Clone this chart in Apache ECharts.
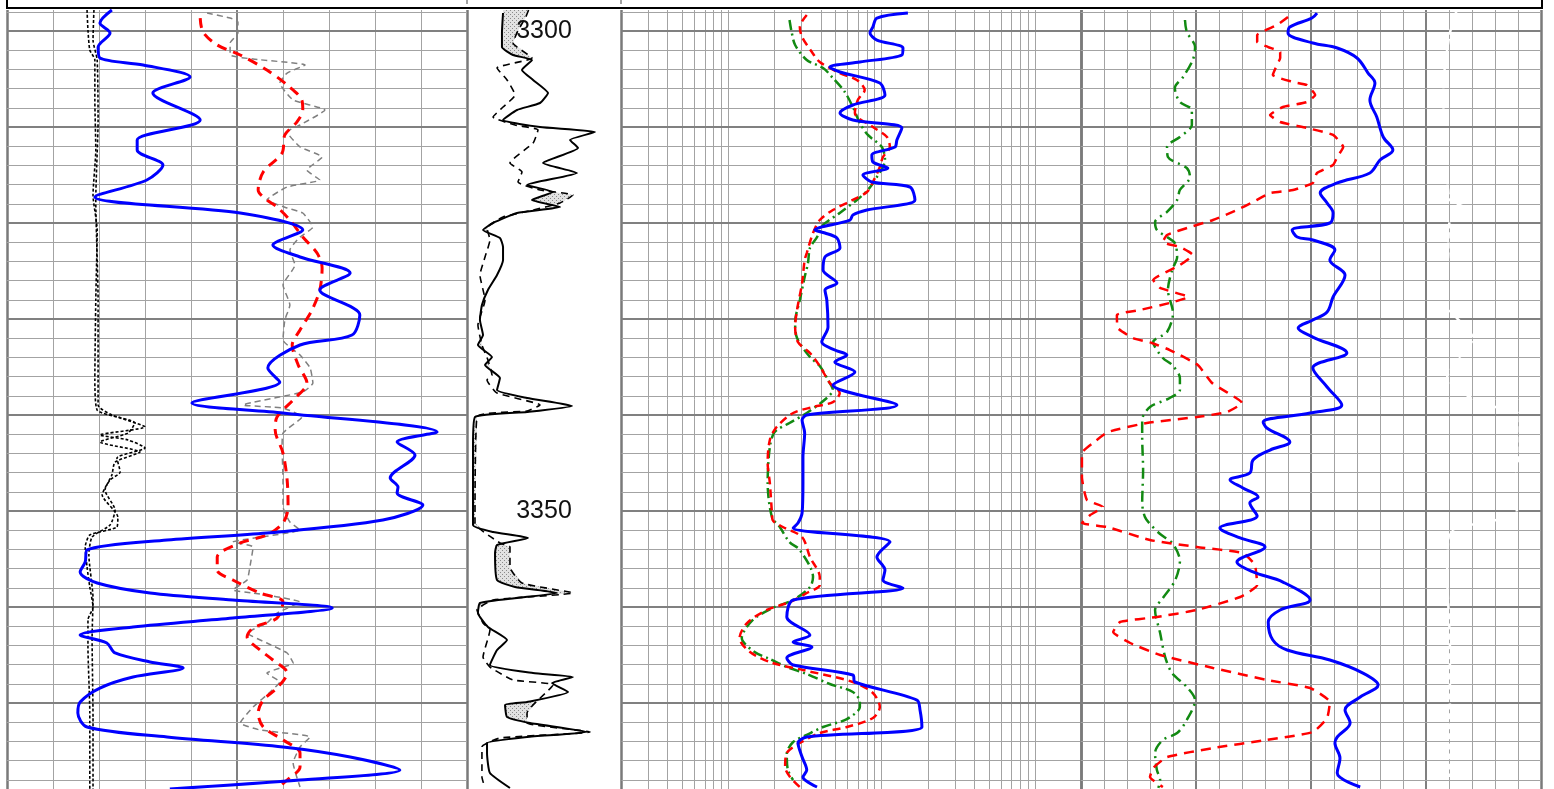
<!DOCTYPE html>
<html>
<head>
<meta charset="utf-8">
<script src="https://cdn.jsdelivr.net/npm/echarts@6/dist/echarts.min.js"></script>
<style>
html,body{margin:0;padding:0;background:#fff;}
#chart{width:1554px;height:789px;}
</style>
</head>
<body>
<div id="chart"></div>
<script>
// ---------------- DATA (depth in m, value in track units) ----------------
const depthLabels = [3300, 3350];

// Track 1 (linear 0-100)
const calA = [[3297.81,17.4],[3299.90,17.6],[3301.98,18.0],[3303.02,19.1],[3307.19,19.1],[3312.40,19.3],[3317.08,18.7],[3320.73,19.6],[3328.02,19.3],[3336.35,19.1],[3339.48,19.6],[3340.31,24.6],[3341.25,30.0],[3342.08,20.2],[3342.60,26.3],[3343.44,30.0],[3344.48,23.9],[3345.94,24.6],[3346.77,22.4],[3348.33,20.7],[3350.63,24.1],[3351.67,23.9],[3352.50,18.0],[3353.75,17.0],[3355.83,17.4],[3357.92,18.0],[3360.00,18.7],[3361.35,17.6],[3364.17,17.6],[3371.04,18.0],[3378.96,18.0]];
const calB = [[3297.81,18.9],[3300.94,18.7],[3303.02,19.6],[3309.27,19.8],[3317.60,19.3],[3328.02,19.8],[3338.96,19.8],[3340.00,22.8],[3340.83,27.8],[3341.88,26.3],[3342.81,20.2],[3343.85,28.9],[3344.90,23.5],[3346.25,22.8],[3347.81,21.3],[3349.90,23.5],[3351.46,22.4],[3352.71,18.5],[3354.58,17.8],[3359.06,18.7],[3363.23,18.5],[3371.56,18.7],[3378.96,18.7]];
const gr = [[3297.81,22.8],[3299.17,20.2],[3300.21,22.4],[3301.67,19.8],[3302.81,20.2],[3303.54,29.6],[3304.79,39.8],[3306.46,31.7],[3309.27,42.0],[3311.35,28.3],[3312.40,28.3],[3313.96,33.9],[3315.52,30.4],[3317.29,19.1],[3318.96,50.7],[3320.73,64.3],[3322.29,57.8],[3323.54,63.7],[3325.21,74.6],[3326.98,68.0],[3329.58,76.7],[3331.67,75.0],[3332.71,63.7],[3335.10,56.7],[3336.56,59.3],[3338.75,40.2],[3339.79,60.0],[3341.77,93.5],[3342.81,84.8],[3344.17,88.7],[3346.56,83.3],[3347.50,85.0],[3348.13,84.8],[3349.38,90.4],[3350.94,81.7],[3352.29,56.5],[3353.02,34.8],[3354.06,17.4],[3355.31,17.0],[3356.35,15.9],[3357.50,19.6],[3358.54,31.1],[3359.27,49.1],[3360.10,70.7],[3361.15,49.1],[3362.08,27.4],[3362.92,15.9],[3363.75,21.7],[3364.79,23.5],[3365.73,31.1],[3366.35,38.3],[3367.29,27.4],[3368.44,20.2],[3369.90,15.9],[3371.04,15.4],[3372.50,17.4],[3373.54,34.8],[3374.58,60.0],[3375.63,74.6],[3376.98,85.4],[3378.02,63.7],[3378.96,35.4]];
const t1Red = [[3298.65,42.0],[3300.10,42.6],[3301.46,45.7],[3302.50,50.7],[3304.06,56.5],[3305.63,60.9],[3307.19,64.1],[3308.23,64.3],[3309.48,63.0],[3310.83,60.4],[3312.71,59.8],[3314.69,55.7],[3316.56,54.6],[3317.60,56.5],[3318.33,58.7],[3319.69,61.5],[3321.46,64.3],[3323.13,67.4],[3324.69,68.5],[3326.98,68.0],[3329.06,66.3],[3331.15,63.7],[3332.71,62.0],[3334.79,63.3],[3336.67,65.2],[3338.44,62.2],[3340.21,58.7],[3341.56,58.3],[3343.96,60.0],[3346.77,60.9],[3349.58,61.1],[3351.25,60.0],[3352.50,56.5],[3353.33,50.7],[3354.79,45.7],[3356.15,45.7],[3357.19,49.1],[3358.54,55.0],[3359.48,60.0],[3361.15,58.7],[3362.19,53.5],[3363.13,52.2],[3364.48,55.0],[3365.52,57.8],[3366.88,60.9],[3368.44,58.7],[3369.69,55.7],[3371.04,54.6],[3372.50,55.7],[3373.85,60.0],[3375.21,63.7],[3376.67,63.7],[3378.02,60.9],[3378.96,58.7]];
const t1Gray = [[3298.13,43.5],[3298.65,48.5],[3299.06,50.2],[3300.21,50.2],[3301.25,48.5],[3302.50,48.5],[3302.92,53.5],[3303.54,64.8],[3304.38,60.9],[3305.42,59.3],[3307.19,62.2],[3308.23,69.1],[3309.79,63.7],[3310.52,60.9],[3312.08,63.7],[3313.13,68.5],[3314.48,65.2],[3315.52,68.0],[3316.25,60.9],[3317.60,56.5],[3318.44,60.9],[3318.96,64.3],[3320.42,66.5],[3321.46,63.7],[3322.81,61.5],[3324.38,62.6],[3326.46,60.0],[3328.54,61.5],[3330.10,60.4],[3332.19,60.0],[3333.75,63.7],[3335.10,65.9],[3336.67,66.5],[3337.60,64.3],[3338.96,51.3],[3339.27,60.0],[3340.21,64.1],[3341.88,60.0],[3343.33,59.8],[3346.77,60.0],[3349.58,60.0],[3351.15,61.5],[3351.98,63.7],[3353.23,49.1],[3353.75,53.5],[3355.83,52.8],[3357.19,52.2],[3358.23,49.1],[3358.54,53.5],[3359.48,63.7],[3360.63,58.7],[3361.67,56.5],[3362.71,52.2],[3363.75,56.5],[3364.79,60.9],[3365.83,62.2],[3366.88,56.5],[3367.81,59.3],[3368.85,57.2],[3370.42,53.5],[3372.08,50.7],[3372.81,55.0],[3373.54,65.9],[3374.58,63.7],[3376.25,62.2],[3378.75,63.7]];

// Depth track (linear 0-100)
const dtSolid = [[3298.13,23.4],[3300.21,22.7],[3301.67,22.7],[3302.50,29.9],[3303.02,42.2],[3304.06,35.7],[3305.10,42.9],[3306.46,52.6],[3307.50,47.4],[3308.23,32.5],[3309.27,23.4],[3310.00,47.4],[3310.52,83.1],[3311.35,66.9],[3312.19,72.1],[3313.75,49.4],[3314.79,71.4],[3316.04,39.0],[3316.77,55.8],[3317.60,42.2],[3318.33,60.4],[3318.96,32.5],[3320.00,16.9],[3320.73,10.4],[3321.56,21.4],[3322.50,23.4],[3323.85,23.4],[3325.42,19.5],[3326.98,13.6],[3328.54,9.7],[3330.10,8.4],[3331.67,10.4],[3332.71,7.1],[3333.96,16.2],[3334.79,11.7],[3336.15,21.4],[3337.40,19.5],[3338.23,39.0],[3339.06,68.2],[3339.69,39.0],[3340.21,5.2],[3343.33,3.9],[3351.46,3.9],[3352.19,16.9],[3352.81,39.6],[3353.54,19.5],[3354.38,18.2],[3357.19,19.5],[3357.92,31.2],[3358.54,58.4],[3359.06,32.5],[3359.58,8.4],[3360.63,7.1],[3362.08,13.6],[3363.44,26.0],[3364.48,19.5],[3366.04,14.9],[3366.88,42.9],[3367.29,68.8],[3367.92,55.2],[3368.85,65.6],[3369.90,39.0],[3370.21,24.7],[3371.46,26.0],[3372.08,40.9],[3373.02,77.9],[3373.54,39.0],[3374.17,13.0],[3375.21,13.0],[3377.29,14.9],[3378.85,27.9]];
const dtDash = [[3297.81,40.0],[3298.60,38.0],[3300.00,33.0],[3301.25,29.9],[3302.81,42.2],[3303.85,19.5],[3305.10,26.0],[3306.67,31.2],[3307.92,23.4],[3308.96,16.9],[3309.79,31.2],[3310.31,46.1],[3311.67,42.9],[3313.75,27.9],[3314.69,35.7],[3315.73,33.1],[3316.56,47.4],[3317.08,68.8],[3317.92,60.4],[3318.65,42.9],[3319.38,23.4],[3320.52,13.0],[3321.77,14.9],[3323.54,11.7],[3325.42,8.4],[3328.02,11.7],[3330.63,7.1],[3332.71,9.7],[3334.27,13.6],[3335.83,16.2],[3336.35,13.0],[3337.71,19.5],[3338.96,47.4],[3339.58,39.0],[3340.21,6.5],[3351.25,5.2],[3353.33,21.4],[3353.75,27.9],[3355.83,27.9],[3357.50,35.7],[3358.54,68.8],[3359.27,16.9],[3360.31,6.5],[3361.67,10.4],[3362.40,14.9],[3365.21,10.4],[3366.25,14.9],[3367.60,29.9],[3368.13,55.8],[3371.04,39.0],[3372.08,39.0],[3373.02,79.9],[3373.65,21.4],[3374.58,9.7],[3377.71,9.7],[3378.85,11.7]];

// Track 3 (log 1-1000)
const t3Blue = [[3298.13,74.1],[3298.65,46.5],[3299.58,43.8],[3300.21,41.9],[3300.94,46.5],[3301.77,68.8],[3302.50,67.7],[3303.23,36.0],[3303.75,22.9],[3304.27,26.7],[3305.42,48.6],[3306.67,52.5],[3307.71,32.4],[3308.54,26.7],[3309.27,32.4],[3310.10,67.7],[3311.35,62.8],[3312.08,61.0],[3312.92,43.1],[3313.65,43.8],[3314.27,54.8],[3315.00,37.7],[3315.73,43.1],[3316.25,76.4],[3317.60,82.4],[3318.65,40.0],[3319.17,32.4],[3319.69,31.0],[3320.73,18.3],[3321.04,21.3],[3321.56,25.5],[3322.60,26.7],[3323.54,21.3],[3324.90,20.7],[3326.25,25.5],[3326.98,21.3],[3328.02,21.9],[3330.83,22.3],[3332.40,20.3],[3333.23,24.7],[3333.75,29.6],[3334.48,24.7],[3335.52,33.4],[3336.88,24.0],[3338.96,62.8],[3340.00,16.2],[3340.52,15.1],[3341.88,15.7],[3344.38,15.3],[3347.08,15.3],[3350.21,15.1],[3351.25,14.2],[3351.77,13.2],[3353.23,56.6],[3354.79,46.5],[3356.15,52.5],[3357.19,50.9],[3358.02,68.8],[3359.27,13.2],[3361.04,12.0],[3362.92,17.0],[3363.65,13.2],[3364.17,17.5],[3365.31,12.0],[3366.04,13.2],[3367.08,32.4],[3367.81,33.4],[3369.69,84.9],[3370.73,88.9],[3372.50,91.5],[3373.54,16.2],[3374.17,14.2],[3375.63,15.1],[3376.98,16.2],[3377.71,15.3],[3378.75,18.9]];
const t3Red = [[3298.33,16.2],[3299.58,14.6],[3300.63,15.1],[3302.19,17.5],[3303.23,19.7],[3304.38,26.6],[3305.10,34.4],[3306.15,38.7],[3307.19,34.9],[3308.54,33.4],[3310.00,43.8],[3311.04,54.1],[3312.08,56.5],[3313.13,50.9],[3314.17,48.6],[3315.73,43.8],[3316.77,40.0],[3317.60,32.4],[3318.65,24.0],[3319.69,19.7],[3321.04,17.8],[3323.13,16.2],[3323.85,15.7],[3326.25,15.1],[3329.06,14.0],[3330.83,13.6],[3332.40,14.2],[3333.54,17.0],[3334.90,19.7],[3336.67,22.9],[3337.71,26.6],[3338.65,24.0],[3339.17,17.8],[3339.79,13.2],[3341.25,10.3],[3342.60,9.3],[3345.00,9.0],[3347.08,9.3],[3350.21,9.6],[3350.94,9.7],[3351.67,11.3],[3352.71,15.1],[3354.79,17.0],[3356.88,19.7],[3357.71,19.7],[3358.54,16.2],[3359.48,12.6],[3360.31,8.9],[3361.67,6.6],[3363.23,5.9],[3364.69,6.9],[3365.83,9.7],[3366.56,15.3],[3367.81,32.4],[3368.96,43.8],[3370.42,48.6],[3371.56,43.8],[3372.50,29.6],[3373.13,19.7],[3374.17,14.6],[3375.21,12.0],[3376.67,11.7],[3377.71,12.6],[3378.75,14.6]];
const t3Green = [[3298.85,12.5],[3300.10,12.9],[3301.46,13.6],[3303.02,16.2],[3303.85,20.7],[3304.90,24.0],[3306.35,28.7],[3307.92,32.4],[3309.58,36.0],[3310.83,40.6],[3312.08,50.1],[3313.44,52.5],[3315.21,46.5],[3316.56,40.6],[3317.60,34.4],[3318.96,26.6],[3320.21,20.7],[3321.46,18.9],[3322.60,17.0],[3324.17,16.5],[3325.63,15.7],[3328.02,14.6],[3330.31,13.6],[3331.98,14.0],[3333.96,17.0],[3334.90,19.7],[3336.35,22.3],[3337.40,24.0],[3338.23,21.9],[3339.79,16.2],[3340.83,12.5],[3341.77,10.0],[3343.33,9.3],[3347.08,9.0],[3350.63,9.6],[3351.67,10.8],[3353.23,12.5],[3354.06,14.6],[3356.88,17.8],[3357.92,17.0],[3359.27,13.2],[3360.10,9.7],[3361.35,7.2],[3363.23,6.1],[3364.69,7.4],[3365.42,9.3],[3366.25,12.0],[3366.98,16.2],[3368.02,22.9],[3368.85,32.4],[3369.90,36.0],[3370.42,36.0],[3371.67,29.6],[3372.50,20.7],[3373.33,16.2],[3374.06,13.2],[3375.31,12.0],[3376.98,12.2],[3378.02,13.2]];

// Track 4 (linear 0-100)
const t4Blue = [[3298.13,51.3],[3298.65,50.2],[3299.58,45.4],[3300.21,45.0],[3301.25,50.4],[3301.77,55.7],[3302.81,60.0],[3304.38,62.4],[3305.42,63.9],[3307.19,62.8],[3308.96,64.3],[3311.04,65.7],[3312.40,67.8],[3313.44,65.0],[3314.79,62.8],[3315.83,55.7],[3316.88,52.0],[3317.92,53.5],[3318.96,54.8],[3320.00,54.1],[3320.73,45.9],[3321.46,47.0],[3321.77,50.4],[3322.81,55.2],[3323.85,54.1],[3325.42,57.4],[3327.71,54.8],[3329.27,53.5],[3330.10,50.4],[3330.94,47.2],[3331.88,50.4],[3333.54,57.8],[3335.10,50.4],[3337.08,53.5],[3338.96,56.7],[3339.79,49.8],[3340.73,39.6],[3341.35,40.4],[3342.81,45.4],[3343.65,41.1],[3344.69,37.4],[3346.04,36.7],[3346.77,32.4],[3347.60,35.2],[3348.54,38.5],[3349.17,36.7],[3350.52,38.3],[3351.77,30.2],[3352.81,34.6],[3353.75,40.0],[3355.31,33.9],[3356.35,37.4],[3357.40,43.9],[3359.27,49.8],[3360.31,43.3],[3361.56,40.7],[3363.44,41.7],[3364.48,44.8],[3365.52,54.1],[3366.88,61.3],[3368.13,64.6],[3369.38,60.7],[3370.73,57.4],[3372.08,58.5],[3373.54,55.7],[3374.17,55.2],[3375.73,56.3],[3377.29,55.7],[3378.75,60.7]];
const t4Red = [[3298.54,45.0],[3299.38,42.6],[3300.42,38.3],[3301.15,38.3],[3301.67,40.7],[3302.19,43.3],[3302.81,43.3],[3303.54,42.6],[3304.58,41.7],[3305.31,46.1],[3305.63,49.1],[3306.67,50.9],[3307.40,49.1],[3307.92,43.9],[3308.75,41.1],[3309.48,43.3],[3310.10,49.1],[3310.83,54.8],[3312.08,57.0],[3313.13,55.7],[3313.96,54.8],[3314.79,51.3],[3315.83,50.4],[3316.56,46.1],[3316.88,41.1],[3317.81,37.4],[3318.65,33.9],[3319.69,28.7],[3320.42,23.7],[3321.25,18.7],[3321.98,17.8],[3322.50,21.5],[3323.33,24.3],[3324.38,21.5],[3325.94,15.7],[3326.77,17.2],[3327.71,23.3],[3328.33,19.3],[3329.06,12.8],[3329.58,7.8],[3330.94,8.0],[3331.98,11.3],[3332.50,15.4],[3333.23,19.3],[3334.79,25.4],[3336.67,28.5],[3338.75,35.0],[3339.69,31.7],[3340.21,25.2],[3340.83,14.3],[3341.77,5.9],[3342.92,2.6],[3343.96,0.2],[3346.46,0.2],[3348.85,1.3],[3349.58,4.8],[3350.42,2.0],[3351.25,0.2],[3351.67,5.7],[3353.02,15.0],[3353.75,25.2],[3354.38,35.2],[3355.63,37.8],[3357.71,38.3],[3358.96,34.6],[3360.31,25.2],[3361.04,16.5],[3361.56,8.5],[3362.60,7.0],[3363.75,10.7],[3365.00,17.2],[3366.35,28.7],[3367.60,40.4],[3368.44,49.8],[3369.90,54.1],[3371.56,53.5],[3373.02,50.4],[3373.85,40.4],[3374.69,28.7],[3375.63,18.7],[3376.77,15.7],[3377.71,15.0],[3378.75,17.8]];
const t4Green = [[3298.85,22.6],[3300.10,23.0],[3301.67,24.8],[3303.02,24.3],[3304.79,22.2],[3305.94,20.4],[3307.40,21.5],[3308.23,24.1],[3309.79,24.1],[3311.04,21.5],[3312.08,18.7],[3313.13,18.9],[3314.27,23.0],[3315.21,23.7],[3316.56,21.5],[3317.60,20.9],[3318.85,18.7],[3319.90,16.1],[3320.73,16.5],[3321.46,18.7],[3322.08,20.4],[3323.54,20.9],[3324.90,19.8],[3326.98,18.9],[3329.38,20.0],[3331.35,18.7],[3332.40,15.7],[3334.06,17.8],[3334.79,19.8],[3336.15,21.5],[3337.40,21.5],[3338.23,19.3],[3339.17,15.0],[3340.52,13.3],[3342.29,13.3],[3345.73,13.5],[3349.17,13.3],[3350.63,13.9],[3351.35,15.0],[3352.40,17.2],[3353.44,20.0],[3355.21,21.5],[3357.29,20.4],[3359.06,17.8],[3360.31,16.1],[3362.71,17.2],[3365.21,18.3],[3366.88,19.8],[3368.33,23.0],[3369.69,24.8],[3371.77,23.0],[3373.13,20.9],[3373.85,17.8],[3375.21,16.1],[3376.98,16.5],[3378.02,17.2],[3378.85,16.8]];
const t4White = [[3297.81,81.7],[3300.21,80.2],[3303.75,79.1],[3307.19,78.7],[3310.63,79.1],[3314.17,79.6],[3317.60,80.2],[3318.65,84.6],[3319.69,80.2],[3323.54,79.8],[3328.02,78.7],[3331.98,85.2],[3336.04,79.6],[3338.75,86.7],[3340.00,95.4],[3343.65,95.4],[3347.08,93.9],[3350.21,94.8],[3352.19,80.2],[3356.88,79.6],[3363.75,80.2],[3370.73,80.2],[3377.71,80.2]];

// ---------------- CHART ----------------
const D0 = 3297.8125, D1 = 3378.958;
const chart = echarts.init(document.getElementById('chart'), null, {renderer: 'canvas'});

const MINOR = {color: '#a3a3a3', width: 1, type: 'solid'};
const MAJOR = {color: '#808080', width: 2, type: 'solid'};
const BORDER = {color: '#7a7a7a', width: 2.5, type: 'solid'};

function hLines() {
  const out = [];
  for (let d = 3298; d <= 3378; d += 2) {
    out.push({yAxis: d, lineStyle: d % 10 === 0 ? MAJOR : MINOR});
  }
  return out;
}
function gridSeries(idx, vlines) {
  return {
    type: 'line', xAxisIndex: idx, yAxisIndex: idx, data: [], symbol: 'none', silent: true, z: 1,
    markLine: {silent: true, symbol: ['none', 'none'], label: {show: false}, animation: false,
      data: vlines.concat(idx === 1 ? [] : hLines())}
  };
}
const v1 = [];
for (let i = 0; i <= 10; i++) v1.push({xAxis: i * 10, lineStyle: (i === 0 || i === 10) ? BORDER : (i === 5 ? MAJOR : MINOR)});
const v4 = [];
for (let i = 0; i <= 20; i++) v4.push({xAxis: i * 5, lineStyle: (i === 0 || i === 20) ? BORDER : (i % 5 === 0 ? MAJOR : MINOR)});
const v3 = [];
[1, 10, 100].forEach(dec => {
  [1, 1.5, 2, 2.5, 3, 3.5, 4, 4.5, 5].forEach(m => v3.push({xAxis: dec * m, lineStyle: dec * m === 1 ? BORDER : MINOR}));
});
v3.push({xAxis: 1000, lineStyle: BORDER});

function curve(pairs, idx, style, smooth, z) {
  return {type: 'line', xAxisIndex: idx, yAxisIndex: idx, data: pairs.map(p => [p[1], p[0]]),
    symbol: 'none', showSymbol: false, smooth: smooth, lineStyle: style, z: z || 5, silent: true, clip: true};
}

// stipple pattern
const pc = document.createElement('canvas');
pc.width = 4; pc.height = 4;
const pctx = pc.getContext('2d');
pctx.fillStyle = '#e2e2e2'; pctx.fillRect(0, 0, 4, 4);
pctx.fillStyle = '#8a8a8a';
pctx.fillRect(0, 0, 1, 1); pctx.fillRect(2, 2, 1, 1);

function interp(arr, d) {
  if (d <= arr[0][0]) return arr[0][1];
  for (let i = 1; i < arr.length; i++) {
    if (d <= arr[i][0]) {
      const t = (d - arr[i-1][0]) / (arr[i][0] - arr[i-1][0]);
      return arr[i-1][1] + t * (arr[i][1] - arr[i-1][1]);
    }
  }
  return arr[arr.length - 1][1];
}

const fillSeries = {
  type: 'custom', xAxisIndex: 1, yAxisIndex: 1, data: [[0, 3300]], z: 3, silent: true,
  renderItem: function (params, api) {
    const right = [], left = [];
    for (let d = D0; d <= D1; d += 0.04) {
      const s = interp(dtSolid, d), k = interp(dtDash, d);
      right.push(api.coord([Math.max(s, k), d]));
      left.push(api.coord([s, d]));
    }
    return {type: 'polygon', shape: {points: right.concat(left.reverse())},
      style: {fill: {image: pc, repeat: 'repeat'}, stroke: null}};
  }
};

const gridDefs = [
  {left: 7, top: 10, width: 460, height: 779},
  {left: 467, top: 10, width: 154, height: 779},
  {left: 621.5, top: 10, width: 459.5, height: 779},
  {left: 1081, top: 10, width: 460, height: 779}
];
const xAxes = [
  {gridIndex: 0, type: 'value', min: 0, max: 100, show: false},
  {gridIndex: 1, type: 'value', min: 0, max: 100, show: false},
  {gridIndex: 2, type: 'log', logBase: 10, min: 1, max: 1000, show: false},
  {gridIndex: 3, type: 'value', min: 0, max: 100, show: false}
];
const yAxes = [0, 1, 2, 3].map(i => ({gridIndex: i, type: 'value', inverse: true, min: D0, max: D1, show: false}));

const RED = '#ff0000', BLUE = '#0000ff', GREEN = '#128a12';

const series = [
  gridSeries(0, v1), gridSeries(1, []), gridSeries(2, v3), gridSeries(3, v4),
  fillSeries,
  // track 1
  curve(calA, 0, {color: '#000', width: 1.6, type: [3, 2]}, 0.2),
  curve(calB, 0, {color: '#000', width: 1.6, type: [3, 2]}, 0.2),
  curve(t1Gray, 0, {color: '#808080', width: 1.5, type: [6, 4]}, 0.15),
  curve(t1Red, 0, {color: RED, width: 3, type: [10, 7]}, 0.3),
  curve(gr, 0, {color: BLUE, width: 3}, 0.3, 6),
  // depth track
  curve(dtDash, 1, {color: '#000', width: 1.6, type: [7, 5]}, 0.15),
  curve(dtSolid, 1, {color: '#000', width: 2}, 0.15),
  {type: 'scatter', xAxisIndex: 1, yAxisIndex: 1, data: depthLabels.map(d => [50, d]), symbolSize: 0,
    itemStyle: {color: '#000'}, z: 10, silent: true,
    label: {show: true, position: 'inside', formatter: p => String(p.value[1]),
      fontSize: 25, color: '#111111', opacity: 1, textBorderWidth: 0,
      fontFamily: '"Liberation Sans", Arial, sans-serif'}},
  // track 3
  curve(t3Green, 2, {color: GREEN, width: 2.5, type: [10, 4, 2, 4]}, 0.3),
  curve(t3Red, 2, {color: RED, width: 2.5, type: [8, 5]}, 0.3),
  curve(t3Blue, 2, {color: BLUE, width: 3}, 0.3, 6),
  // track 4
  curve(t4White, 3, {color: '#ffffff', width: 2.5, type: [6, 4]}, 0.2),
  curve(t4Green, 3, {color: GREEN, width: 2.5, type: [11, 5, 2, 5]}, 0.3),
  curve(t4Red, 3, {color: RED, width: 2.5, type: [10, 7]}, 0.15),
  curve(t4Blue, 3, {color: BLUE, width: 3}, 0.35, 6)
];

chart.setOption({
  animation: false,
  backgroundColor: '#ffffff',
  grid: gridDefs,
  xAxis: xAxes,
  yAxis: yAxes,
  series: series,
  graphic: [
    {type: 'line', shape: {x1: 6, y1: 8, x2: 1543, y2: 8}, style: {stroke: '#000', lineWidth: 2}, z: 100},
    {type: 'line', shape: {x1: 7, y1: 0, x2: 7, y2: 9}, style: {stroke: '#000', lineWidth: 2}, z: 100},
    {type: 'line', shape: {x1: 1542, y1: 0, x2: 1542, y2: 9}, style: {stroke: '#000', lineWidth: 2}, z: 100},
    {type: 'line', shape: {x1: 467, y1: 0, x2: 467, y2: 4}, style: {stroke: '#444', lineWidth: 1}, z: 100},
    {type: 'line', shape: {x1: 621, y1: 0, x2: 621, y2: 4}, style: {stroke: '#444', lineWidth: 1}, z: 100}
  ]
});
</script>
</body>
</html>
